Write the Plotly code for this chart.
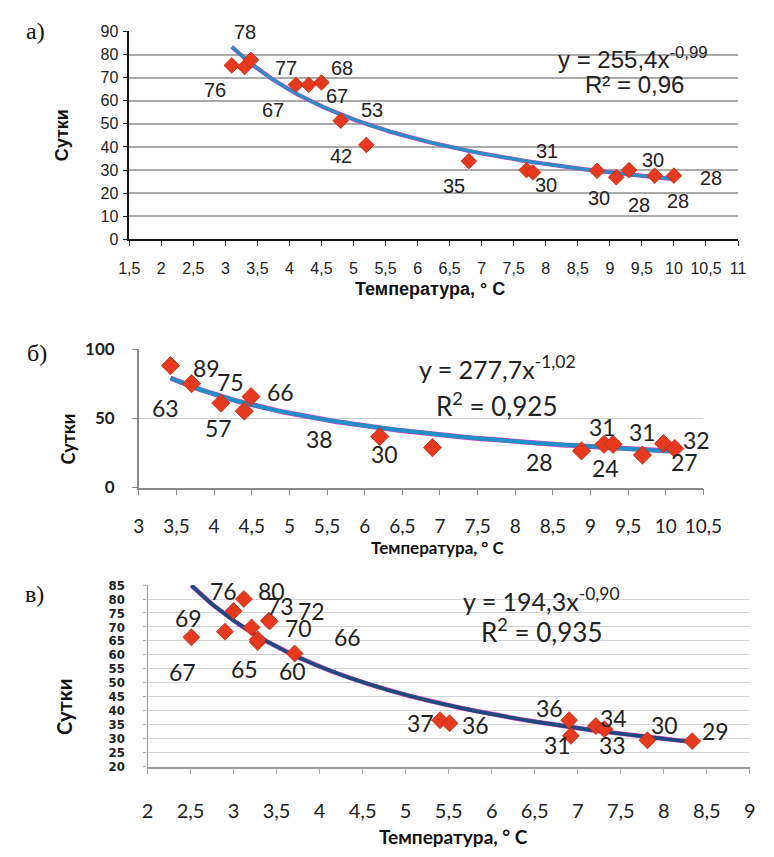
import numpy as np
import plotly.graph_objects as go

W, H = 774, 857
PAGE_OFF = 8  # browser body margin

# ---------------- data ----------------
# panel а)
a_temp = [3.1, 3.3, 3.4, 4.1, 4.3, 4.5, 4.8, 5.2, 6.8, 7.7, 7.8, 8.8, 9.1, 9.3, 9.7, 10.0]
a_days = [75.3, 74.6, 77.7, 66.9, 66.9, 67.9, 51.4, 40.9, 33.9, 30.0, 29.0, 29.7, 26.9, 30.0, 27.6, 27.6]
a_labels = ["76", "77", "78", "67", "67", "68", "53", "42", "35", "31", "30", "30", "28", "30", "28", "28"]
a_coef, a_pow = 255.4, -0.99
a_eq = "y = 255,4x<sup>-0,99</sup>"
a_r2 = "R² = 0,96"
a_xtick_vals = [1.5, 2, 2.5, 3, 3.5, 4, 4.5, 5, 5.5, 6, 6.5, 7, 7.5, 8, 8.5, 9, 9.5, 10, 10.5, 11]
a_xtick_text = ["1,5", "2", "2,5", "3", "3,5", "4", "4,5", "5", "5,5", "6", "6,5", "7", "7,5", "8", "8,5", "9", "9,5", "10", "10,5", "11"]
a_ytick_vals = [0, 10, 20, 30, 40, 50, 60, 70, 80, 90]

# panel б)
b_temp = [3.42, 3.7, 4.09, 4.4, 4.49, 6.2, 6.9, 8.88, 9.18, 9.3, 9.69, 9.97, 10.12]
b_days = [88.2, 75.2, 61.1, 55.3, 65.8, 36.9, 28.9, 26.5, 31.3, 31.3, 23.5, 31.8, 28.2]
b_labels = ["89", "75", "63", "57", "66", "38", "30", "28", "31", "24", "31", "32", "27"]
b_coef, b_pow = 277.7, -1.02
b_eq = "y = 277,7x<sup>-1,02</sup>"
b_r2 = "R<sup>2</sup> = 0,925"
b_xtick_vals = [3, 3.5, 4, 4.5, 5, 5.5, 6, 6.5, 7, 7.5, 8, 8.5, 9, 9.5, 10, 10.5]
b_xtick_text = ["3", "3,5", "4", "4,5", "5", "5,5", "6", "6,5", "7", "7,5", "8", "8,5", "9", "9,5", "10", "10,5"]
b_ytick_vals = [0, 50, 100]

# panel в)
c_temp = [2.51, 2.9, 3.0, 3.12, 3.21, 3.28, 3.41, 3.42, 3.28, 3.71, 5.4, 5.51, 6.9, 6.92, 7.21, 7.31, 7.81, 8.33]
c_days = [66.3, 68.3, 75.7, 80.0, 69.8, 64.6, 72.2, 72.0, 65.5, 60.5, 36.6, 35.5, 36.6, 31.0, 34.5, 33.4, 29.4, 29.1]
c_labels = ["67", "69", "76", "80", "70", "65", "73", "72", "66", "60", "37", "36", "36", "31", "34", "33", "30", "29"]
c_coef, c_pow = 194.3, -0.90
c_eq = "y = 194,3x<sup>-0,90</sup>"
c_r2 = "R<sup>2</sup> = 0,935"
c_xtick_vals = [2, 2.5, 3, 3.5, 4, 4.5, 5, 5.5, 6, 6.5, 7, 7.5, 8, 8.5, 9]
c_xtick_text = ["2", "2,5", "3", "3,5", "4", "4,5", "5", "5,5", "6", "6,5", "7", "7,5", "8", "8,5", "9"]
c_ytick_vals = [20, 25, 30, 35, 40, 45, 50, 55, 60, 65, 70, 75, 80, 85]

x_title = "Температура, ° C"
y_title = "Сутки"

# ---------------- styles (pixel label offsets) ----------------
a_off = [(-17, 25), (41, 1), (-6, -28), (-23, 25), (28, 11), (21, -14), (31, -11), (-25, 11),
         (-15, 25), (20, -19), (13, 13), (2, 27), (23, 28), (24, -10), (23, 25), (37, 2)]
b_off = [(36, 2), (39, -2), (-55, 5), (-26, 17), (29, -5), (-60, 2), (-48, 6), (-42, 11),
         (-2, -17), (-8, 24), (0, -23), (33, -4), (10, 13)]
c_off = [(-9, 35), (-36, -14), (-10, -20), (28, -8), (47, 0), (-13, 27), (12, -15), (42, -10),
         (90, -3), (-2, 18), (-20, 3), (26, 2), (-20, -12), (-13, 9), (18, -8), (8, 16), (17, -15), (23, -10)]


def px(x):
    return (x - PAGE_OFF) / W


def py(y):
    return 1 - (y - PAGE_OFF) / H


RED = "#e63a1e"
fig = go.Figure()

panels = [
    dict(t=a_temp, d=a_days, lab=a_labels, off=a_off, coef=a_coef, pw=a_pow, xa="x", ya="y",
         line="#2a8ec6", lw=3.2, msize=12, font="Liberation Sans", lsize=20),
    dict(t=b_temp, d=b_days, lab=b_labels, off=b_off, coef=b_coef, pw=b_pow, xa="x2", ya="y2",
         line="#1f8fc8", lw=4, msize=14, font="Lato", lsize=23),
    dict(t=c_temp, d=c_days, lab=c_labels, off=c_off, coef=c_coef, pw=c_pow, xa="x3", ya="y3",
         line="#1d4a7c", lw=3.6, msize=13, font="Lato", lsize=23),
]

annotations = []
for p in panels:
    xs = np.linspace(min(p["t"]), max(p["t"]), 200)
    ys = p["coef"] * xs ** p["pw"]
    fig.add_trace(go.Scatter(x=xs, y=ys, mode="lines", xaxis=p["xa"], yaxis=p["ya"],
                             line=dict(color="#d63fc0", width=p["lw"] + 1.0), hoverinfo="skip",
                             showlegend=False))
    fig.add_trace(go.Scatter(x=xs, y=ys, mode="lines", xaxis=p["xa"], yaxis=p["ya"],
                             line=dict(color=p["line"], width=p["lw"]), hoverinfo="skip",
                             showlegend=False))
    fig.add_trace(go.Scatter(x=p["t"], y=p["d"], mode="markers", xaxis=p["xa"], yaxis=p["ya"],
                             marker=dict(symbol="diamond", size=p["msize"], color=RED,
                                         line=dict(color="#c02810", width=0.8)),
                             cliponaxis=False, showlegend=False))
    for xv, yv, lab, (dx, dy) in zip(p["t"], p["d"], p["lab"], p["off"]):
        annotations.append(dict(x=xv, y=yv, xref=p["xa"], yref=p["ya"], text=lab, showarrow=False,
                                xshift=dx, yshift=-dy, xanchor="center", yanchor="middle",
                                font=dict(family=p["font"], size=p["lsize"], color="#222")))

fig.update_layout(
    xaxis=dict(domain=[px(122.7), px(756)], range=[1.5, 11], anchor="y",
               tickvals=a_xtick_vals, ticktext=a_xtick_text, showgrid=False, zeroline=False,
               showline=True, linecolor="#111", linewidth=2, ticks="outside", ticklen=5,
               tickcolor="#222", ticklabelstandoff=8,
               tickfont=dict(family="Liberation Sans", size=16, color="#222")),
    yaxis=dict(domain=[py(234), py(20.7)], range=[0, 90], anchor="x",
               tickvals=a_ytick_vals, showgrid=True, gridcolor="#ababab", gridwidth=1.6,
               zeroline=False, showline=True, linecolor="#111", linewidth=1.5, ticks="outside",
               ticklen=5, tickcolor="#222", ticklabelstandoff=1,
               tickfont=dict(family="Liberation Sans", size=16, color="#222")),
    xaxis2=dict(domain=[px(132.7), px(720)], range=[3, 10.5], anchor="y2",
                tickvals=b_xtick_vals, ticktext=b_xtick_text, showgrid=False, zeroline=False,
                showline=True, linecolor="#8a8a8a", linewidth=1.5, ticks="outside", ticklen=6,
                tickcolor="#8a8a8a", ticklabelstandoff=15,
                tickfont=dict(family="Lato", size=19, color="#222")),
    yaxis2=dict(domain=[py(488.3), py(346.7)], range=[0, 100], anchor="x2",
                tickvals=b_ytick_vals, showgrid=True, gridcolor="#cfcfcf", gridwidth=1.4,
                zeroline=False, showline=True, linecolor="#8a8a8a", linewidth=1.5, ticks="outside",
                ticklen=5, tickcolor="#8a8a8a", ticklabelstandoff=14,
                tickfont=dict(family="Lato", size=17, color="#222", weight="bold")),
    xaxis3=dict(domain=[px(141.7), px(768.3)], range=[2, 9], anchor="y3",
                tickvals=c_xtick_vals, ticktext=c_xtick_text, showgrid=False, zeroline=False,
                showline=True, linecolor="#9a9a9a", linewidth=1.5, ticks="outside", ticklen=6,
                tickcolor="#aaaaaa", ticklabelstandoff=20,
                tickfont=dict(family="Lato", size=20, color="#222")),
    yaxis3=dict(domain=[py(774.3), py(588.3)], range=[20, 85], anchor="x3",
                tickvals=c_ytick_vals, showgrid=True, gridcolor="#d4d4d4", gridwidth=1.2,
                zeroline=False, showline=True, linecolor="#9a9a9a", linewidth=1.2, ticks="outside",
                ticklen=3, tickcolor="#aaaaaa", ticklabelstandoff=16,
                tickfont=dict(family="Liberation Sans Narrow, DejaVu Sans Condensed, Liberation Sans",
                              size=13, color="#222", weight="bold")),
)

eqs = [
    (a_eq, 647, 48, "Liberation Sans", 24), (a_r2, 648, 75, "Liberation Sans", 24),
    (b_eq, 506, 365, "Lato", 25), (b_r2, 505, 403, "Lato", 26),
    (c_eq, 552, 603, "Lato", 25), (c_r2, 552, 635, "Lato", 26),
]
for txt, x, y, fam, sz in eqs:
    annotations.append(dict(x=px(x), y=py(y), xref="paper", yref="paper", text=txt, showarrow=False,
                            xanchor="center", yanchor="middle",
                            font=dict(family=fam, size=sz, color="#222")))

for x, y, fam, sz in [(436, 285, "Liberation Sans", 18), (444, 550, "Lato", 17), (460, 846, "Lato", 19)]:
    annotations.append(dict(x=px(x), y=py(y), xref="paper", yref="paper", text=x_title, showarrow=False,
                            xanchor="center", yanchor="middle",
                            font=dict(family=fam, size=sz, color="#111", weight="bold")))
for x, y, fam, sz in [(53, 127, "Liberation Sans", 18), (59, 439, "Lato", 18), (55, 713, "Lato", 20)]:
    annotations.append(dict(x=px(x), y=py(y), xref="paper", yref="paper", text=y_title, showarrow=False,
                            textangle=-90, xanchor="center", yanchor="middle",
                            font=dict(family=fam, size=sz, color="#111", weight="bold")))

for txt, x, y in [("а)", 25, 20), ("б)", 27, 350), ("в)", 24, 597)]:
    annotations.append(dict(x=px(x), y=py(y), xref="paper", yref="paper", text=txt, showarrow=False,
                            xanchor="center", yanchor="middle",
                            font=dict(family="Liberation Serif", size=24, color="#111")))

fig.update_layout(width=W, height=H, autosize=False, margin=dict(l=0, r=0, t=0, b=0),
                  paper_bgcolor="white", plot_bgcolor="white", showlegend=False,
                  annotations=annotations)

fig.write_html("out.html")
